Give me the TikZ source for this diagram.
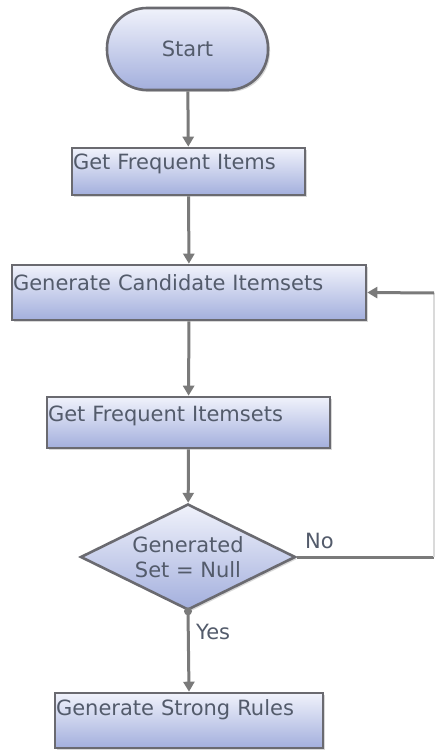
\documentclass[tikz,border=0pt]{standalone}
\usepackage{fontspec}
\setmainfont{DejaVu Sans}
\usetikzlibrary{arrows.meta,shadows,shapes.geometric}
\definecolor{txtc}{HTML}{535B6B}
\definecolor{edgec}{HTML}{6A6A70}
\definecolor{linec}{HTML}{7A7A7A}
\definecolor{topc}{HTML}{F0F2FB}
\definecolor{botc}{HTML}{A3AFDD}
\definecolor{faintc}{HTML}{DADADA}
\begin{document}
\begin{tikzpicture}[x=1pt,y=-1pt,
  every node/.style={font=\fontsize{21}{25}\selectfont, text=txtc},
  shade3d/.style={top color=topc, bottom color=botc, draw=edgec, line width=2.6pt,
    drop shadow={shadow xshift=2pt, shadow yshift=-2pt, opacity=0.3}},
  procbox/.style={shade3d, rectangle, inner xsep=1pt, inner ysep=2pt, align=left},
  termbox/.style={shade3d, rectangle, rounded corners=40pt, minimum width=161pt, minimum height=82pt, inner sep=0pt},
  decbox/.style={shade3d, diamond, shape aspect=2.03, minimum width=215pt, minimum height=106pt, inner sep=0pt, align=center},
  flow/.style={draw=linec, line width=3pt},
  flowarrow/.style={flow, -{Triangle[width=11pt,length=10pt]}},
  lbl/.style={inner sep=0pt, anchor=base west}
]
\useasboundingbox (0,0) rectangle (436,751);
\fill[white] (0,0) rectangle (436,751);

\node[termbox] (start) at (187.5,49) {Start};
\node[procbox, text width=231pt, text height=20pt, text depth=23pt] (gfi) at (188.5,171.5) {Get Frequent Items};
\node[procbox, text width=352pt, text height=23pt, text depth=28pt] (gci) at (189,292.5) {Generate Candidate Itemsets};
\node[procbox, text width=281pt, text height=22pt, text depth=25pt] (gfis) at (188.5,422.5) {Get Frequent Itemsets};
\node[decbox] (dec) at (188,557) {Generated\\Set = Null};
\node[procbox, text width=266pt, text height=20pt, text depth=31pt] (gsr) at (189,720.5) {Generate Strong Rules};

\coordinate (rc1) at (434,557);
\coordinate (rc2) at (434,293);

\draw[flowarrow] (start) -- (gfi);
\draw[flowarrow] (gfi) -- (gci);
\draw[flowarrow] (gci) -- (gfis);
\draw[flowarrow] (gfis) -- (dec);
\draw[flowarrow] (dec.south) -- (gsr.north);
\fill[linec] (dec.south) circle (4pt);
\draw[flow] (dec.east) -- (rc1);
\draw[draw=faintc, line width=1.5pt] (rc1) -- (rc2);
\draw[flowarrow] (rc2) -- (gci.east);

\node[lbl] (no) at (305,548) {No};
\node[lbl] (yes) at (196,639) {Yes};
\end{tikzpicture}
\end{document}
